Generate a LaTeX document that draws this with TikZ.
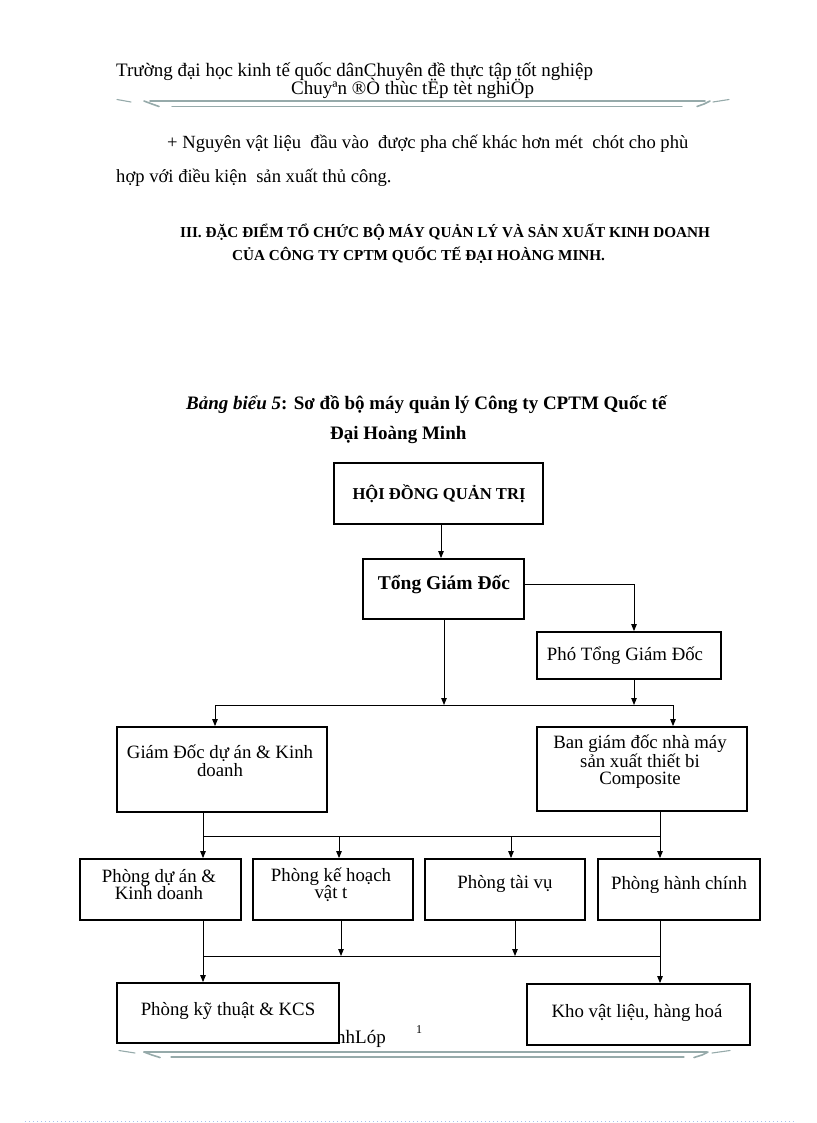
\documentclass[tikz,border=0pt]{standalone}
\usepackage{fontspec}
\setmainfont{Liberation Serif}
\usetikzlibrary{arrows.meta,calc}
\definecolor{decog}{RGB}{150,170,170}
\definecolor{dotc}{RGB}{170,190,235}
\begin{document}
\begin{tikzpicture}[x=1pt,y=-1pt,
  box/.style={draw=black,line width=1.8pt,fill=white,inner sep=0pt},
  conn/.style={line width=0.9pt},
  arr/.style={conn,-{Triangle[length=7pt,width=5.5pt]}},
  txt/.style={inner sep=0pt,anchor=base west,font=\fontsize{18.6}{20}\selectfont},
  btxt/.style={inner sep=0pt,align=center,font=\fontsize{18.8}{17.5}\selectfont},
  deco/.style={draw=decog,line width=1.6pt,line cap=round},
  decothin/.style={draw=decog,line width=1.1pt,line cap=round}
]
\useasboundingbox[fill=white] (0,0) rectangle (816,1123);

% ---------- header ----------
\node[txt,font=\fontsize{19}{20}\selectfont] (h1) at (116,77) {Trường đại học kinh tế quốc dânChuyên đề thực tập tốt nghiệp};
\node[txt,font=\fontsize{19}{20}\selectfont] (h2) at (291,95) {Chuyªn ®Ò thùc tËp tèt nghiÖp};
\draw[deco] (150,101) -- (705,101);
\draw[decothin] (172,106.5) -- (682,106.5);
\draw[decothin] (117,99.5) -- (131,102);
\draw[deco] (144,101) -- (152,104) -- (159,106.5);
\draw[deco] (697,106.5) -- (704,104) -- (710,101);
\draw[decothin] (713,102) -- (729,99.5);

% ---------- paragraph ----------
\node[txt] (p1) at (167,149) {+ Nguyên vật liệu\ \ đầu vào\ \ được pha chế khác hơn mét\ \ chót cho phù};
\node[txt] (p2) at (116,183) {hợp với điều kiện\ \ sản xuất thủ công.};

\node[txt,font=\fontsize{15.2}{16}\selectfont\bfseries] (s1) at (180,237) {III. ĐẶC ĐIỂM TỔ CHỨC BỘ MÁY QUẢN LÝ VÀ SẢN XUẤT KINH DOANH};
\node[txt,font=\fontsize{15.2}{16}\selectfont\bfseries] (s2) at (232,260) {CỦA CÔNG TY CPTM QUỐC TẾ ĐẠI HOÀNG MINH.};

\node[txt,font=\fontsize{19}{20}\selectfont\bfseries] (c1) at (186,409) {\textit{Bảng biểu 5}: Sơ đồ bộ máy quản lý Công ty CPTM Quốc tế};
\node[txt,font=\fontsize{19}{20}\selectfont\bfseries] (c2) at (330,439) {Đại Hoàng Minh};

% ---------- footer text (partly hidden) ----------
\node[txt,font=\fontsize{19}{20}\selectfont] (f1) at (336,1043) {nhLóp};
\node[txt,font=\fontsize{12}{14}\selectfont] (f2) at (416,1033) {1};

% ---------- boxes ----------
\node[box,minimum width=209pt,minimum height=61pt] (hdqt) at (438.5,493.5) {};
\node[btxt,font=\fontsize{16.6}{18}\selectfont\bfseries] (hdqtT) at (439,494) {HỘI ĐỒNG QUẢN TRỊ};

\node[box,minimum width=161pt,minimum height=60pt] (tgd) at (443.5,589) {};
\node[btxt,font=\fontsize{19.5}{20}\selectfont\bfseries] (tgdT) at (444,585) {Tổng Giám Đốc};

\node[box,minimum width=184pt,minimum height=47pt] (ptgd) at (629,655.5) {};
\node[btxt] (ptgdT) at (625,656) {Phó Tổng Giám Đốc};

\node[box,minimum width=210pt,minimum height=85pt] (gd) at (222,769.5) {};
\node[btxt] (gdT) at (220,761) {Giám Đốc dự án \& Kinh\\doanh};

\node[box,minimum width=210pt,minimum height=84pt] (ban) at (642,769) {};
\node[btxt] (banT) at (640,762) {Ban giám đốc nhà máy\\sản xuất thiết bi\\Composite};

\node[box,minimum width=161pt,minimum height=61pt] (r1) at (160.5,889.5) {};
\node[btxt] (r1T) at (159,884.5) {Phòng dự án \&\\Kinh doanh};
\node[box,minimum width=160pt,minimum height=61pt] (r2) at (333,889.5) {};
\node[btxt] (r2T) at (331,884.5) {Phòng kế hoạch\\vật t};
\node[box,minimum width=160pt,minimum height=61pt] (r3) at (505,889.5) {};
\node[btxt] (r3T) at (505,884) {Phòng tài vụ};
\node[box,minimum width=162pt,minimum height=61pt] (r4) at (679,889.5) {};
\node[btxt] (r4T) at (679,885) {Phòng hành chính};

\node[box,minimum width=222pt,minimum height=60pt] (kt) at (228,1013) {};
\node[btxt] (ktT) at (228,1011) {Phòng kỹ thuật \& KCS};
\node[box,minimum width=223pt,minimum height=61pt] (kho) at (638.5,1014.5) {};
\node[btxt] (khoT) at (637,1013) {Kho vật liệu, hàng hoá};

% ---------- connectors ----------
\coordinate (j1) at (444,705);
\coordinate (j2) at (634,705);
\coordinate (jl) at (215,705);
\coordinate (jr) at (673,705);
\coordinate (tge) at ($(tgd.east)+(0,-5)$);
\coordinate (tgc) at (634,584);

\draw[arr] (hdqt.south -| 441,0) -- (tgd.north -| 441,0);
\draw[conn] (tge) -- (tgc);
\draw[arr] (tgc) -- (ptgd.north -| tgc);
\draw[arr] (tgd.south -| j1) -- (j1);
\draw[arr] (ptgd.south -| j2) -- (j2);
\draw[conn] (jl) -- (jr);
\draw[arr] (jl) -- (gd.north -| jl);
\draw[arr] (jr) -- (ban.north -| jr);

\coordinate (k1) at (203,836);
\coordinate (k2) at (339,836);
\coordinate (k3) at (511,836);
\coordinate (k4) at (660,836);
\draw[conn] (gd.south -| k1) -- (k1);
\draw[conn] (ban.south -| k4) -- (k4);
\draw[conn] (k1) -- (k4);
\draw[arr] (k1) -- (r1.north -| k1);
\draw[arr] (k2) -- (r2.north -| k2);
\draw[arr] (k3) -- (r3.north -| k3);
\draw[arr] (k4) -- (r4.north -| k4);

\coordinate (m1) at (203,956);
\coordinate (m2) at (341,956);
\coordinate (m3) at (515,956);
\coordinate (m4) at (660,956);
\draw[conn] (r1.south -| m1) -- (m1);
\draw[conn] (r4.south -| m4) -- (m4);
\draw[conn] (m1) -- (m4);
\draw[arr] (r2.south -| m2) -- (m2);
\draw[arr] (r3.south -| m3) -- (m3);
\draw[arr] (m1) -- (kt.north -| m1);
\draw[arr] (m4) -- (kho.north -| m4);

% ---------- footer decoration ----------
\draw[deco] (144,1052) -- (707,1052);
\draw[decothin] (171,1057) -- (684,1057);
\draw[decothin] (119,1050.5) -- (135,1053);
\draw[deco] (144,1052) -- (152,1055) -- (160,1057.5);
\draw[deco] (694,1057.5) -- (702,1055) -- (708,1052);
\draw[decothin] (712,1053) -- (730,1050.5);

\draw[draw=dotc,line width=0.8pt,dash pattern=on 1pt off 3pt] (25,1121.5) -- (795,1121.5);
\end{tikzpicture}
\end{document}
